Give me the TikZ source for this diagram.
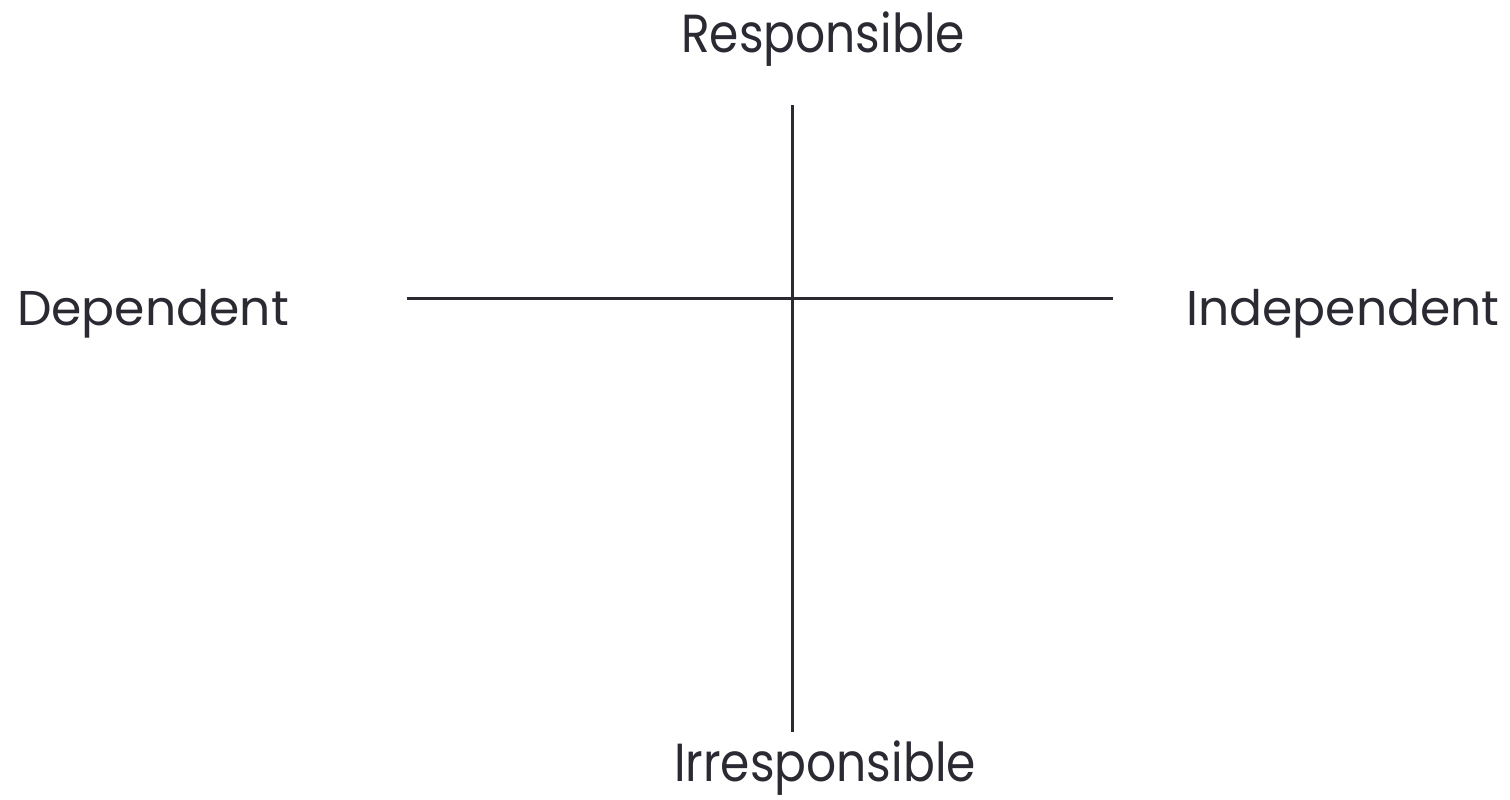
\documentclass[tikz,border=0pt]{standalone}
\usepackage{fontspec}
\setmainfont{Poppins}
\newfontfamily\polefont{Poppins}[FakeStretch=0.88]
\usetikzlibrary{positioning}

\definecolor{inkgray}{HTML}{2B2A33}

\begin{document}
\begin{tikzpicture}[
    x=0.02cm, y=-0.02cm,        % 1 unit = 1 px of the layout
    axis/.style={inkgray, line width=0.06cm},
    pole/.style={inkgray, inner sep=0pt, anchor=base, font=\polefont\fontsize{30.5}{36}\selectfont},
    side/.style={inkgray, inner sep=0pt, anchor=base, font=\fontsize{27.8}{32}\selectfont}
]

    % --- frame ---
    \useasboundingbox (0, 0) rectangle (1510, 799);

    % --- axis end points ---
    \coordinate (top)    at (792, 105);
    \coordinate (bottom) at (792, 732);
    \coordinate (left)   at (407, 298);
    \coordinate (right)  at (1113, 298);

    % --- axes ---
    \draw [axis] (top) -- (bottom);
    \draw [axis] (left) -- (right);

    % --- labels ---
    \node [pole] (resp)   at (823, 52)  {Responsible};
    \node [pole] (irresp) at (825, 781) {Irresponsible};
    \node [side] (dep)    at (153, 325) {Dependent};
    \node [side] (indep)  at (1343, 325) {Independent};

\end{tikzpicture}
\end{document}
